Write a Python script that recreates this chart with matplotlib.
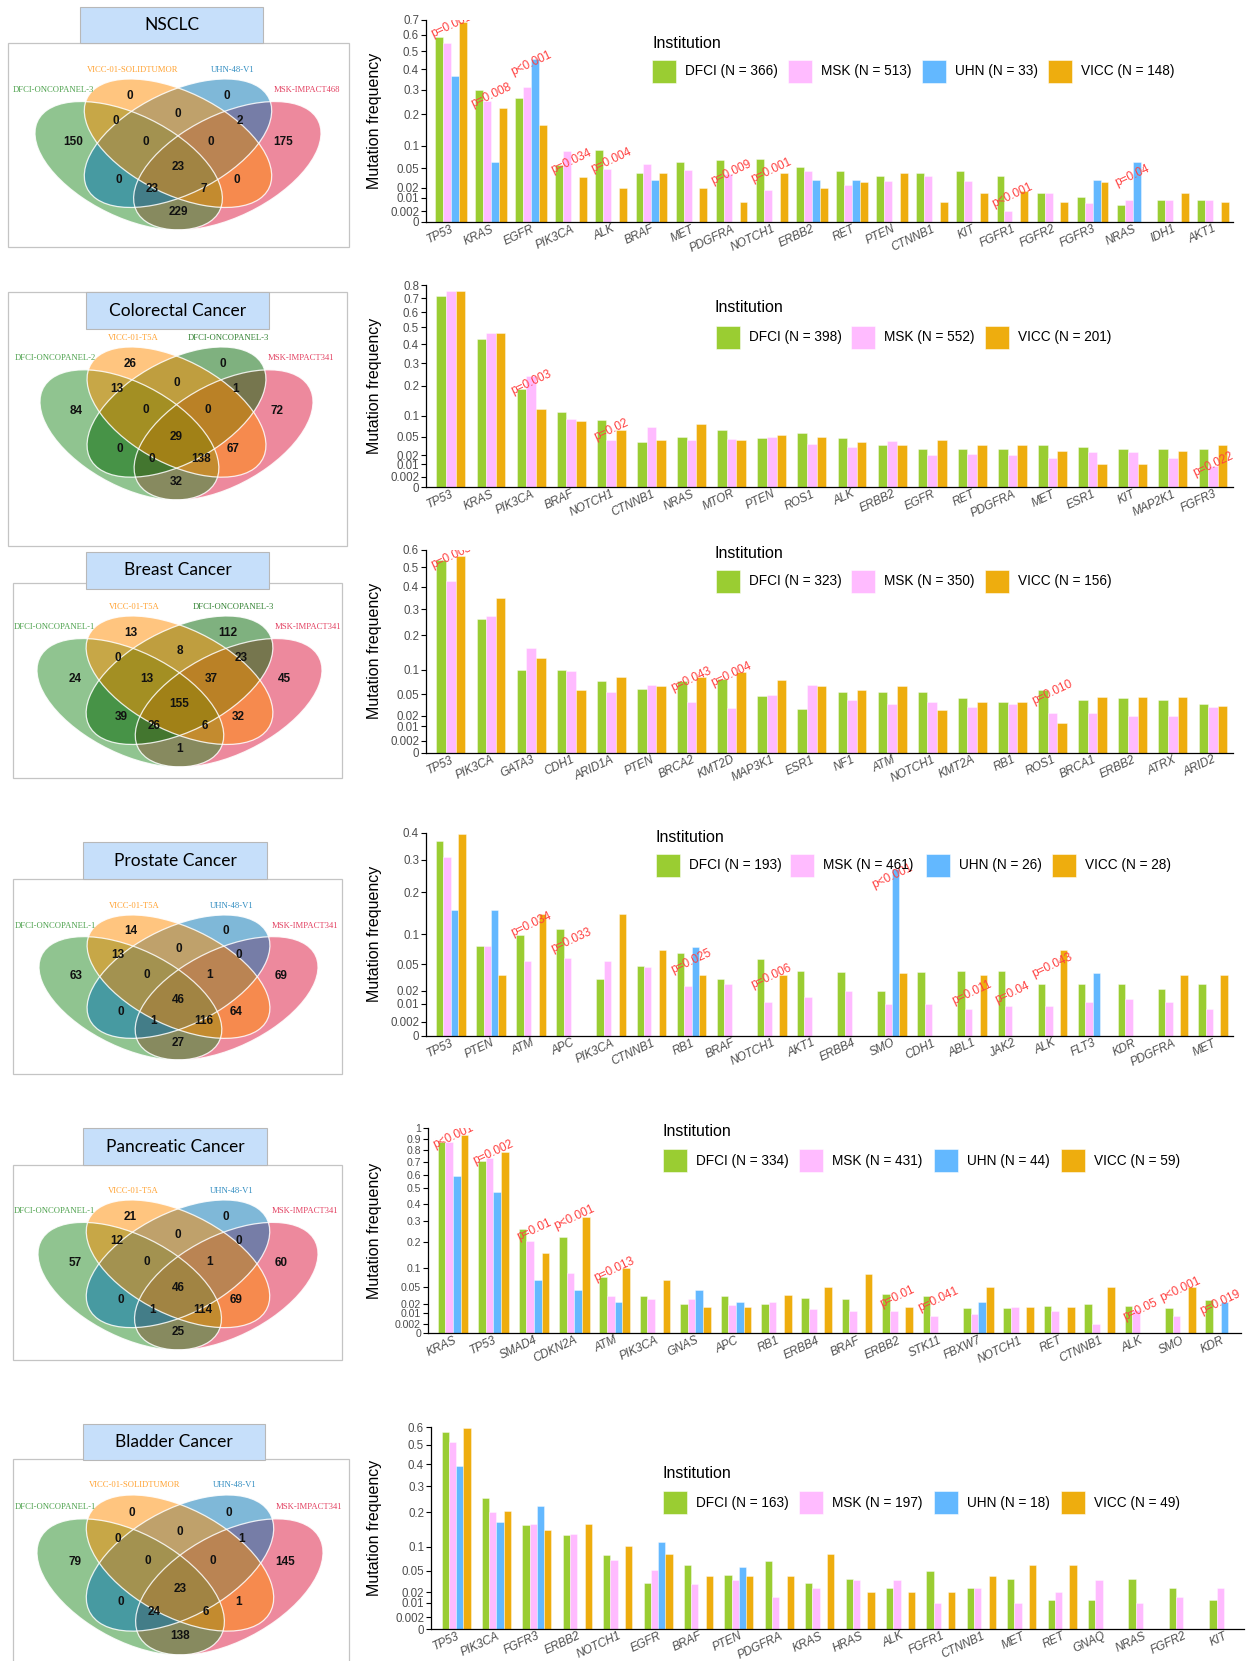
import numpy as np
import matplotlib
matplotlib.use("Agg")
import matplotlib.pyplot as plt
from matplotlib.patches import Ellipse, Rectangle
from matplotlib.colors import to_rgba
from matplotlib import font_manager

W, H = 1257, 1661

# ---------------------------------------------------------------- data
institution_colors = {"DFCI": "#9ACD32", "MSK": "#FFBBFF", "UHN": "#63B8FF", "VICC": "#EEAD0E"}

# NSCLC
nsclc_genes = ["TP53", "KRAS", "EGFR", "PIK3CA", "ALK", "BRAF", "MET", "PDGFRA", "NOTCH1", "ERBB2",
               "RET", "PTEN", "CTNNB1", "KIT", "FGFR1", "FGFR2", "FGFR3", "NRAS", "IDH1", "AKT1"]
nsclc_dfci = [0.585, 0.300, 0.262, 0.055, 0.090, 0.041, 0.061, 0.067, 0.069, 0.052,
              0.044, 0.036, 0.041, 0.044, 0.036, 0.014, 0.011, 0.005, 0.008, 0.008]
nsclc_msk = [0.548, 0.252, 0.311, 0.087, 0.049, 0.057, 0.047, 0.040, 0.018, 0.044,
             0.023, 0.029, 0.036, 0.029, 0.002, 0.014, 0.006, 0.008, 0.008, 0.008]
nsclc_uhn = [0.364, 0.061, 0.455, 0, 0, 0.030, 0, 0, 0, 0.030,
             0.030, 0, 0, 0, 0, 0, 0.030, 0.061, 0, 0]
nsclc_vicc = [0.689, 0.223, 0.162, 0.034, 0.020, 0.041, 0.020, 0.007, 0.041, 0.020,
              0.027, 0.041, 0.007, 0.014, 0.017, 0.007, 0.027, 0, 0.014, 0.007]
nsclc_institutions = ["DFCI", "MSK", "UHN", "VICC"]
nsclc_counts = [366, 513, 33, 148]
nsclc_yticks = [0, 0.002, 0.01, 0.02, 0.05, 0.1, 0.2, 0.3, 0.4, 0.5, 0.6, 0.7]
nsclc_pvalues = [("TP53", "p=0.001"), ("KRAS", "p=0.008"), ("EGFR", "p<0.001"), ("PIK3CA", "p=0.034"),
                 ("ALK", "p=0.004"), ("PDGFRA", "p=0.009"), ("NOTCH1", "p=0.001"), ("FGFR1", "p<0.001"),
                 ("NRAS", "p=0.04")]
nsclc_panels = ["DFCI-ONCOPANEL-3", "VICC-01-SOLIDTUMOR", "UHN-48-V1", "MSK-IMPACT468"]
nsclc_venn = [150, 0, 0, 175, 0, 0, 2, 0, 0, 23, 0, 23, 7, 0, 229]

# Colorectal
crc_genes = ["TP53", "KRAS", "PIK3CA", "BRAF", "NOTCH1", "CTNNB1", "NRAS", "MTOR", "PTEN", "ROS1",
             "ALK", "ERBB2", "EGFR", "RET", "PDGFRA", "MET", "ESR1", "KIT", "MAP2K1", "FGFR3"]
crc_dfci = [0.713, 0.431, 0.190, 0.109, 0.089, 0.039, 0.049, 0.063, 0.047, 0.057,
            0.047, 0.035, 0.029, 0.029, 0.029, 0.035, 0.032, 0.028, 0.028, 0.028]
crc_msk = [0.753, 0.463, 0.240, 0.090, 0.044, 0.071, 0.044, 0.046, 0.050, 0.037,
           0.032, 0.042, 0.020, 0.022, 0.020, 0.017, 0.024, 0.024, 0.017, 0.009]
crc_vicc = [0.753, 0.463, 0.120, 0.085, 0.064, 0.044, 0.079, 0.044, 0.054, 0.050,
            0.039, 0.035, 0.044, 0.035, 0.035, 0.025, 0.010, 0.010, 0.025, 0.035]
crc_institutions = ["DFCI", "MSK", "VICC"]
crc_counts = [398, 552, 201]
crc_yticks = [0, 0.002, 0.01, 0.02, 0.05, 0.1, 0.2, 0.3, 0.4, 0.5, 0.6, 0.7, 0.8]
crc_pvalues = [("PIK3CA", "p=0.003"), ("NOTCH1", "p=0.02"), ("FGFR3", "p=0.022")]
crc_panels = ["DFCI-ONCOPANEL-2", "VICC-01-T5A", "DFCI-ONCOPANEL-3", "MSK-IMPACT341"]
crc_venn = [84, 26, 0, 72, 13, 0, 1, 0, 0, 29, 0, 0, 138, 67, 32]

# Breast
brca_genes = ["TP53", "PIK3CA", "GATA3", "CDH1", "ARID1A", "PTEN", "BRCA2", "KMT2D", "MAP3K1", "ESR1",
              "NF1", "ATM", "NOTCH1", "KMT2A", "RB1", "ROS1", "BRCA1", "ERBB2", "ATRX", "ARID2"]
brca_dfci = [0.540, 0.259, 0.100, 0.100, 0.075, 0.059, 0.075, 0.079, 0.046, 0.028,
             0.053, 0.053, 0.053, 0.043, 0.037, 0.058, 0.040, 0.043, 0.040, 0.034]
brca_msk = [0.429, 0.272, 0.160, 0.097, 0.054, 0.067, 0.037, 0.029, 0.049, 0.066,
            0.040, 0.035, 0.037, 0.031, 0.035, 0.023, 0.023, 0.020, 0.020, 0.031]
brca_vicc = [0.565, 0.350, 0.131, 0.058, 0.083, 0.064, 0.084, 0.094, 0.077, 0.064,
             0.058, 0.064, 0.026, 0.038, 0.037, 0.013, 0.045, 0.045, 0.045, 0.032]
brca_institutions = ["DFCI", "MSK", "VICC"]
brca_counts = [323, 350, 156]
brca_yticks = [0, 0.002, 0.01, 0.02, 0.05, 0.1, 0.2, 0.3, 0.4, 0.5, 0.6]
brca_pvalues = [("TP53", "p=0.003"), ("BRCA2", "p=0.043"), ("KMT2D", "p=0.004"), ("ROS1", "p=0.010")]
brca_panels = ["DFCI-ONCOPANEL-1", "VICC-01-T5A", "DFCI-ONCOPANEL-3", "MSK-IMPACT341"]
brca_venn = [24, 13, 112, 45, 0, 8, 23, 13, 37, 155, 39, 26, 6, 32, 1]

# Prostate
prad_genes = ["TP53", "PTEN", "ATM", "APC", "PIK3CA", "CTNNB1", "RB1", "BRAF", "NOTCH1", "AKT1",
              "ERBB4", "SMO", "CDH1", "ABL1", "JAK2", "ALK", "FLT3", "KDR", "PDGFRA", "MET"]
prad_dfci = [0.369, 0.078, 0.098, 0.111, 0.031, 0.047, 0.067, 0.031, 0.057, 0.041,
             0.040, 0.020, 0.040, 0.041, 0.041, 0.026, 0.026, 0.026, 0.021, 0.026]
prad_msk = [0.309, 0.078, 0.054, 0.059, 0.054, 0.046, 0.024, 0.026, 0.011, 0.015,
            0.020, 0.010, 0.010, 0.007, 0.009, 0.009, 0.011, 0.013, 0.011, 0.007]
prad_uhn = [0.154, 0.154, 0, 0, 0, 0, 0.077, 0, 0, 0,
            0, 0.269, 0, 0, 0, 0, 0.038, 0, 0, 0]
prad_vicc = [0.393, 0.036, 0.143, 0, 0.143, 0.071, 0.036, 0, 0.036, 0,
             0, 0.038, 0, 0.036, 0, 0.071, 0, 0, 0.036, 0.036]
prad_institutions = ["DFCI", "MSK", "UHN", "VICC"]
prad_counts = [193, 461, 26, 28]
prad_yticks = [0, 0.002, 0.01, 0.02, 0.05, 0.1, 0.2, 0.3, 0.4]
prad_pvalues = [("ATM", "p=0.034"), ("APC", "p=0.033"), ("RB1", "p=0.025"), ("NOTCH1", "p=0.006"),
                ("SMO", "p<0.001"), ("ABL1", "p=0.011"), ("JAK2", "p=0.04"), ("ALK", "p=0.043")]
prad_panels = ["DFCI-ONCOPANEL-1", "VICC-01-T5A", "UHN-48-V1", "MSK-IMPACT341"]
prad_venn = [63, 14, 0, 69, 13, 0, 0, 0, 1, 46, 0, 1, 116, 64, 27]

# Pancreatic
paad_genes = ["KRAS", "TP53", "SMAD4", "CDKN2A", "ATM", "PIK3CA", "GNAS", "APC", "RB1", "ERBB4",
              "BRAF", "ERBB2", "STK11", "FBXW7", "NOTCH1", "RET", "CTNNB1", "ALK", "SMO", "KDR"]
paad_dfci = [0.868, 0.709, 0.259, 0.219, 0.075, 0.033, 0.021, 0.033, 0.021, 0.030,
             0.028, 0.036, 0.033, 0.015, 0.015, 0.018, 0.021, 0.018, 0.015, 0.027]
paad_msk = [0.875, 0.734, 0.201, 0.086, 0.033, 0.028, 0.028, 0.019, 0.023, 0.014,
            0.012, 0.012, 0.007, 0.009, 0.016, 0.012, 0.002, 0.013, 0.007, 0]
paad_uhn = [0.591, 0.477, 0.068, 0.045, 0.023, 0, 0.045, 0.023, 0, 0,
            0, 0, 0, 0.023, 0, 0, 0, 0, 0, 0.023]
paad_vicc = [0.932, 0.780, 0.153, 0.322, 0.102, 0.068, 0.017, 0.017, 0.034, 0.051,
             0.085, 0.017, 0, 0.051, 0.017, 0.017, 0.051, 0, 0.051, 0]
paad_institutions = ["DFCI", "MSK", "UHN", "VICC"]
paad_counts = [334, 431, 44, 59]
paad_yticks = [0, 0.002, 0.01, 0.02, 0.05, 0.1, 0.2, 0.3, 0.4, 0.5, 0.6, 0.7, 0.8, 0.9, 1]
paad_pvalues = [("KRAS", "p<0.001"), ("TP53", "p=0.002"), ("SMAD4", "p=0.01"), ("CDKN2A", "p<0.001"),
                ("ATM", "p=0.013"), ("ERBB2", "p=0.01"), ("STK11", "p=0.041"), ("ALK", "p=0.05"),
                ("SMO", "p<0.001"), ("KDR", "p=0.019")]
paad_panels = ["DFCI-ONCOPANEL-1", "VICC-01-T5A", "UHN-48-V1", "MSK-IMPACT341"]
paad_venn = [57, 21, 0, 60, 12, 0, 0, 0, 1, 46, 0, 1, 114, 69, 25]

# Bladder
blca_genes = ["TP53", "PIK3CA", "FGFR3", "ERBB2", "NOTCH1", "EGFR", "BRAF", "PTEN", "PDGFRA", "KRAS",
              "HRAS", "ALK", "FGFR1", "CTNNB1", "MET", "RET", "GNAQ", "NRAS", "FGFR2", "KIT"]
blca_dfci = [0.571, 0.252, 0.160, 0.129, 0.080, 0.031, 0.061, 0.043, 0.067, 0.031,
             0.037, 0.025, 0.049, 0.025, 0.037, 0.012, 0.012, 0.037, 0.025, 0.012]
blca_msk = [0.513, 0.203, 0.162, 0.132, 0.071, 0.051, 0.030, 0.036, 0.015, 0.025,
            0.036, 0.036, 0.010, 0.025, 0.010, 0.020, 0.036, 0.010, 0.015, 0.025]
blca_uhn = [0.389, 0.167, 0.222, 0, 0, 0.111, 0, 0.056, 0, 0,
            0, 0, 0, 0, 0, 0, 0, 0, 0, 0]
blca_vicc = [0.592, 0.204, 0.143, 0.163, 0.102, 0.082, 0.041, 0.041, 0.041, 0.082,
             0.020, 0.020, 0.020, 0.041, 0.061, 0.061, 0, 0, 0, 0]
blca_institutions = ["DFCI", "MSK", "UHN", "VICC"]
blca_counts = [163, 197, 18, 49]
blca_yticks = [0, 0.002, 0.01, 0.02, 0.05, 0.1, 0.2, 0.3, 0.4, 0.5, 0.6]
blca_pvalues = []
blca_panels = ["DFCI-ONCOPANEL-1", "VICC-01-SOLIDTUMOR", "UHN-48-V1", "MSK-IMPACT341"]
blca_venn = [79, 0, 0, 145, 0, 0, 1, 0, 0, 23, 0, 24, 6, 1, 138]

# Venn region order: G=left panel, O=inner-left, B=inner-right, P=right panel
venn_regions = ["G", "O", "B", "P", "GO", "OB", "BP", "GOB", "OBP", "GOBP", "GB", "GBP", "GOP", "OP", "GP"]

# ---------------------------------------------------------------- styling
available = {f.name for f in font_manager.fontManager.ttflist}
SANS = "Liberation Sans" if "Liberation Sans" in available else "DejaVu Sans"
SERIF = "Liberation Serif" if "Liberation Serif" in available else "DejaVu Serif"
TITLE_FONT = "Lato" if "Lato" in available else "DejaVu Sans"
TICK_GREY = "#4D4D4D"
P_RED = "#FF4040"

venn_fill = {"green": "#228B22", "orange": "#FF8C00", "blue": "#0072B2",
             "pink": "#DC143C", "darkgreen": "#006400"}

region_pos = {
    "G": (0.133, 0.58), "P": (0.867, 0.58),
    "O": (0.33, 0.89), "B": (0.67, 0.89),
    "GO": (0.283, 0.724), "BP": (0.717, 0.724),
    "OB": (0.5, 0.766),
    "GOB": (0.387, 0.586), "OBP": (0.613, 0.586),
    "GOBP": (0.5, 0.414),
    "GB": (0.294, 0.331), "OP": (0.706, 0.331),
    "GBP": (0.41, 0.269), "GOP": (0.59, 0.269),
    "GP": (0.5, 0.117),
}

fig = plt.figure(figsize=(W / 100, H / 100), dpi=100)
fig.patch.set_facecolor("white")


def fx(x):
    return x / W


def fy(y):
    return 1 - y / H


def px_rect(x0, x1, y0, y1):
    return [x0 / W, 1 - y1 / H, (x1 - x0) / W, (y1 - y0) / H]


def fig_box(x0, x1, y0, y1, **kw):
    fig.add_artist(Rectangle((fx(x0), fy(y1)), (x1 - x0) / W, (y1 - y0) / H,
                             transform=fig.transFigure, **kw))


def draw_venn(title, names, counts, colors, box, frame, title_box):
    fig_box(*frame, fill=False, ec="#c4c4c4", lw=0.9)
    fig_box(*title_box, fc="#C6DFFA", ec="#b8b8b8", lw=0.8, zorder=3)
    tx0, tx1, ty0, ty1 = title_box
    fig.text(fx((tx0 + tx1) / 2), fy((ty0 + ty1) / 2), title, ha="center", va="center",
             fontsize=12.5, family=TITLE_FONT, color="black", zorder=4)

    ax = fig.add_axes(px_rect(*box))
    ax.set_xlim(0.065, 0.935)
    ax.set_ylim(0.185, 0.855)
    ax.axis("off")
    geometry = {0: ((0.35, 0.47), -45), 1: ((0.5, 0.57), -45),
                2: ((0.5, 0.57), 45), 3: ((0.65, 0.47), 45)}
    order = [3, 0, 2, 1]
    for k in order:
        c, ang = geometry[k]
        ax.add_patch(Ellipse(c, 0.7, 0.4, angle=ang, fc=to_rgba(venn_fill[colors[k]], 0.5),
                             ec="none", clip_on=False))
    for k in order:
        c, ang = geometry[k]
        ax.add_patch(Ellipse(c, 0.7, 0.4, angle=ang, fill=False, ec=(1, 1, 1, 0.85),
                             lw=0.9, clip_on=False))
    for reg, val in zip(venn_regions, counts):
        x, y = region_pos[reg]
        ax.text(x, y, str(val), transform=ax.transAxes, ha="center", va="center",
                fontsize=8.5, fontweight="bold", family=SANS, color="#111111")
    label_spec = [(0.205, 0.925, "right"), (0.34, 1.062, "center"),
                  (0.69, 1.062, "center"), (0.835, 0.925, "left")]
    for k, (x, y, ha) in enumerate(label_spec):
        ax.text(x, y, names[k], transform=ax.transAxes, ha=ha, va="center",
                fontsize=6.2, family=SERIF, color=to_rgba(venn_fill[colors[k]], 0.8))


def sqrt_fwd(v):
    return np.sqrt(np.clip(v, 0, None))


def sqrt_inv(v):
    return np.square(v)


def draw_bars(genes, series, institutions, counts, yticks, pvalues, rect, legend, p_drop, group_width,
              ytick_size=8.3):
    ax = fig.add_axes(px_rect(*rect))
    n = len(genes)
    m = len(institutions)
    bw = group_width / m
    x = np.arange(n)
    for j, inst in enumerate(institutions):
        offs = (j - (m - 1) / 2) * bw
        ax.bar(x + offs, series[j], width=bw, color=institution_colors[inst],
               edgecolor=to_rgba("white", 0.55), linewidth=0.5, zorder=2)
    ax.set_yscale("function", functions=(sqrt_fwd, sqrt_inv))
    ax.set_ylim(0, yticks[-1])
    ax.set_xlim(-0.62, n - 1 + 0.5)
    ax.set_yticks(yticks)
    ax.set_yticklabels([f"{t:g}" for t in yticks], fontsize=ytick_size, family=SANS, color=TICK_GREY)
    ax.minorticks_off()
    ax.set_xticks(x)
    ax.set_xticklabels([])
    ax.tick_params(axis="y", length=3.5, width=0.8, pad=1.5, color="black")
    ax.tick_params(axis="x", length=0)
    for s in ("top", "right"):
        ax.spines[s].set_visible(False)
    for s in ("left", "bottom"):
        ax.spines[s].set_linewidth(0.9)
        ax.spines[s].set_color("black")
    # gene names below the axis
    for i, g in enumerate(genes):
        ax.annotate(g, xy=(i, 0), xycoords=("data", "axes fraction"),
                    xytext=(0, -1), textcoords="offset pixels",
                    rotation=25, rotation_mode="anchor", ha="right", va="top",
                    fontsize=8.4, family=SANS, style="italic", color=TICK_GREY,
                    annotation_clip=False)
    # significance labels
    for g, txt in pvalues:
        i = genes.index(g)
        top = max(s[i] for s in series)
        ax.text(i, max(top - p_drop, 0.0005), txt, rotation=25, ha="center", va="center",
                fontsize=8.6, family=SANS, color=P_RED, clip_on=True, zorder=5)
    # y label
    x0, x1, y0, y1 = rect
    fig.text(fx(374), fy((y0 + y1) / 2), "Mutation frequency", rotation=90, ha="center",
             va="center", fontsize=11.5, family=SANS, color="black")
    # legend
    tx, ty, btop, bxs = legend
    fig.text(fx(tx), fy(ty), "Institution", ha="left", va="center", fontsize=11.5,
             family=SANS, color="black")
    for inst, cnt, bx in zip(institutions, counts, bxs):
        fig_box(bx, bx + 24, btop, btop + 23, fc=institution_colors[inst],
                ec=to_rgba("white", 0.6), lw=0.6)
        fig.text(fx(bx + 33), fy(btop + 11.5), f"{inst} (N = {cnt})", ha="left", va="center",
                 fontsize=9.8, family=SANS, color="black")
    return ax


panels = [
    dict(title="NSCLC", genes=nsclc_genes, series=[nsclc_dfci, nsclc_msk, nsclc_uhn, nsclc_vicc],
         inst=nsclc_institutions, counts=nsclc_counts, yticks=nsclc_yticks, pvalues=nsclc_pvalues,
         names=nsclc_panels, venn=nsclc_venn, colors=["green", "orange", "blue", "pink"],
         rect=(426, 1233, 20, 222), legend=(652, 43, 60, [652, 788, 922, 1048]), p_drop=0.024, gw=0.79,
         box=(35, 321, 79, 230), frame=(8, 349, 43, 247), title_box=(80, 263, 7, 43), yts=8.3),
    dict(title="Colorectal Cancer", genes=crc_genes, series=[crc_dfci, crc_msk, crc_vicc],
         inst=crc_institutions, counts=crc_counts, yticks=crc_yticks, pvalues=crc_pvalues,
         names=crc_panels, venn=crc_venn, colors=["green", "orange", "darkgreen", "pink"],
         rect=(426, 1233, 285, 487), legend=(715, 308, 326, [716, 851, 985]), p_drop=0.025, gw=0.72,
         box=(40, 313, 347, 500), frame=(8, 347, 292, 546), title_box=(86, 269, 292, 329), yts=8.3),
    dict(title="Breast Cancer", genes=brca_genes, series=[brca_dfci, brca_msk, brca_vicc],
         inst=brca_institutions, counts=brca_counts, yticks=brca_yticks, pvalues=brca_pvalues,
         names=brca_panels, venn=brca_venn, colors=["green", "orange", "darkgreen", "pink"],
         rect=(426, 1233, 549.7, 752.7), legend=(715, 553, 570, [716, 851, 985]), p_drop=0.005, gw=0.72,
         box=(37, 322, 616, 767), frame=(13, 342, 583, 778), title_box=(86, 269, 552, 589), yts=8.3),
    dict(title="Prostate Cancer", genes=prad_genes, series=[prad_dfci, prad_msk, prad_uhn, prad_vicc],
         inst=prad_institutions, counts=prad_counts, yticks=prad_yticks, pvalues=prad_pvalues,
         names=prad_panels, venn=prad_venn, colors=["green", "orange", "blue", "pink"],
         rect=(426, 1233, 832.7, 1036), legend=(655, 837, 854, [656, 790, 926, 1052]), p_drop=0.023, gw=0.74,
         box=(39, 318, 915, 1060), frame=(13, 342, 879, 1074), title_box=(83, 267, 842, 879), yts=8.3),
    dict(title="Pancreatic Cancer", genes=paad_genes, series=[paad_dfci, paad_msk, paad_uhn, paad_vicc],
         inst=paad_institutions, counts=paad_counts, yticks=paad_yticks, pvalues=paad_pvalues,
         names=paad_panels, venn=paad_venn, colors=["green", "orange", "blue", "pink"],
         rect=(428, 1241, 1128.3, 1333.3), legend=(662, 1132, 1149, [663, 799, 934, 1061]), p_drop=0.005,
         gw=0.76, box=(38, 318, 1200, 1350), frame=(13, 342, 1165, 1360), title_box=(83, 267, 1128, 1165),
         yts=7.6),
    dict(title="Bladder Cancer", genes=blca_genes, series=[blca_dfci, blca_msk, blca_uhn, blca_vicc],
         inst=blca_institutions, counts=blca_counts, yticks=blca_yticks, pvalues=blca_pvalues,
         names=blca_panels, venn=blca_venn, colors=["green", "orange", "blue", "pink"],
         rect=(431, 1244, 1427, 1629), legend=(662, 1473, 1491, [663, 799, 934, 1061]), p_drop=0.02, gw=0.72,
         box=(37, 323, 1495, 1655), frame=(13, 349, 1459, 1668), title_box=(83, 265, 1424, 1460), yts=8.3),
]

for p in panels:
    draw_bars(p["genes"], p["series"], p["inst"], p["counts"], p["yticks"], p["pvalues"],
              p["rect"], p["legend"], p["p_drop"], p["gw"], p["yts"])
    draw_venn(p["title"], p["names"], p["venn"], p["colors"], p["box"], p["frame"], p["title_box"])

fig.savefig("out.png", dpi=100, facecolor="white")
